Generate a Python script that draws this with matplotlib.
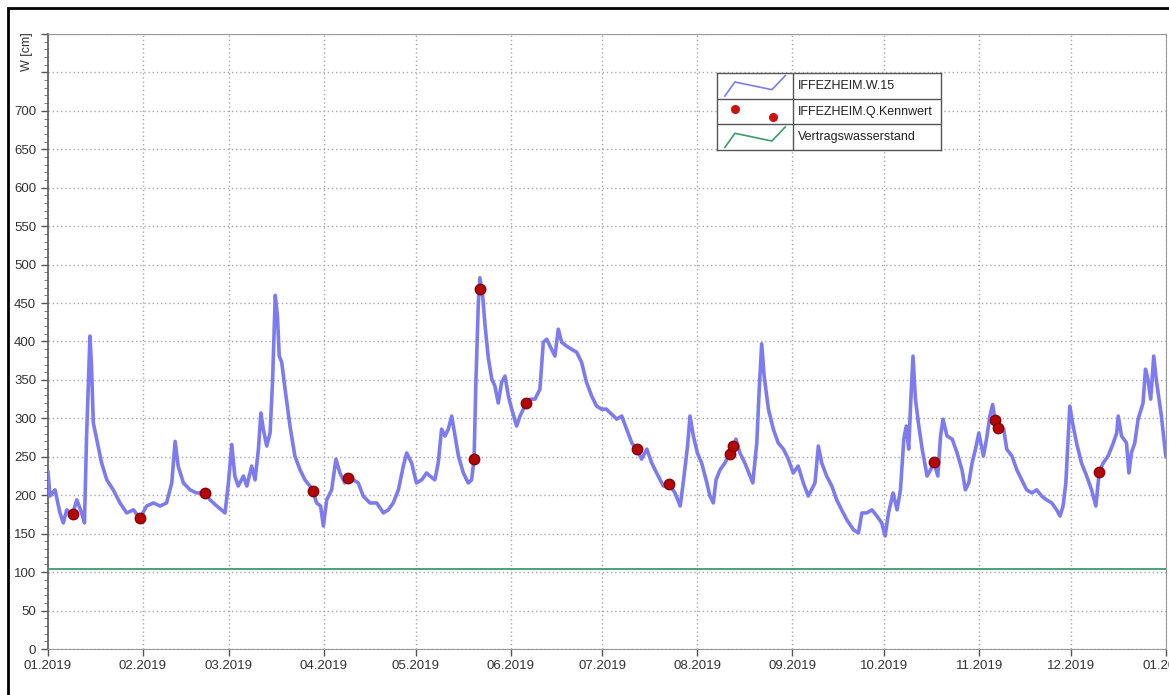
import numpy as np
import pandas as pd
import matplotlib
matplotlib.use("Agg")
import matplotlib.pyplot as plt
import matplotlib.dates as mdates
from matplotlib.ticker import MultipleLocator, FuncFormatter
from matplotlib.patches import Rectangle

plt.rcParams['font.family'] = ['Liberation Sans', 'DejaVu Sans']

start = pd.Timestamp('2019-01-01')

# IFFEZHEIM.W.15 - water level (day of year, cm)
w15_day = [0, 0.65, 2.3, 3.9, 5.0, 6.1, 8.0, 9.4, 11.0, 11.9, 12.6, 13.7, 14.2, 14.8, 15.9,
           17.5, 19.2, 21.3, 23.5, 25.7, 27.9, 30.0, 32.2, 34.4, 36.6, 38.7, 40.4, 41.5, 42.5,
           44.2, 46.4, 48.5, 51.3, 52.9, 55.1, 57.8, 58.9, 60.0,
           61.0, 62.1, 63.8, 64.9, 66.5, 67.6, 68.7, 69.5, 70.3, 71.4, 72.5, 73.3, 74.2, 74.9,
           75.5, 76.3, 77.4, 79.0, 80.6, 82.3, 83.9, 85.5, 86.4, 87.7, 89.0, 89.9, 91.0, 92.6,
           94.0, 95.3, 96.9, 98.0, 99.7, 101.3, 102.9, 105.1, 107.3, 109.5, 111.1, 112.7, 114.4,
           116.0, 117.1, 118.7, 120.3, 122.0, 123.6, 124.7,
           126.3, 127.4, 128.5, 129.6, 130.7, 131.8, 132.9, 134.0, 135.6, 137.2, 138.3, 139.1,
           139.7, 140.5, 141.0, 141.9, 142.7, 143.8, 144.9, 145.9, 147.0, 148.1, 149.2, 150.3,
           151.4, 153.0, 154.1, 156.1, 157.4, 159.0, 160.6, 161.7, 162.8, 164.4, 165.5, 166.6,
           167.7, 169.3, 170.9, 172.6, 174.2, 175.8, 177.5, 179.1, 180.7, 182.3,
           185.7, 187.3, 188.9, 190.6, 192.2, 193.8, 195.5, 197.1, 198.7, 200.9, 202.9, 204.7,
           206.4, 207.5, 208.8, 209.6, 210.7, 212.0, 213.4, 215.1, 216.1, 217.2, 218.1, 219.4,
           221.0, 222.5, 223.8, 224.6, 225.9, 227.5, 229.2, 230.1, 231.4, 232.2, 233.0, 233.8,
           235.2, 236.8, 238.4, 240.1, 241.7, 243.3, 244.9, 246.6, 248.2,
           250.4, 251.5, 252.6, 254.2, 255.9, 257.5, 259.1, 260.8, 263.0, 264.6, 265.7, 267.3,
           269.0, 270.6, 272.2, 273.3, 274.4, 275.9, 277.2, 278.3, 279.4, 280.2, 281.0, 281.7,
           282.4, 283.2, 284.3, 285.4, 287.0, 288.1, 289.2, 290.5, 291.4, 292.2, 293.5, 295.2,
           296.8, 298.4, 299.5, 300.6, 301.7, 302.8, 303.9,
           305.4, 306.4, 307.5, 308.4, 309.2, 310.3, 312.0, 313.0, 314.7, 316.3, 317.9, 319.5,
           321.2, 322.8, 324.4, 326.0, 327.7, 329.3, 330.4, 331.4, 332.3, 333.1, 333.6, 334.5,
           335.8, 337.4, 339.1, 340.7, 342.1, 343.2, 344.5, 346.1, 347.8, 348.9, 349.4, 350.5,
           352.1, 352.9, 353.7, 354.8, 355.9, 357.5, 358.3, 359.1, 360.0, 361.0, 361.8, 363.5,
           364.8, 365.0]
w15_cm = [230, 199, 207, 177, 164, 181, 175, 194, 177, 164, 277, 407, 368, 294, 273,
          242, 220, 207, 190, 177, 181, 170, 186, 190, 186, 190, 216, 270, 238,
          216, 207, 203, 203, 194, 186, 177, 216, 266,
          225, 212, 225, 212, 238, 220, 260, 307, 286, 264, 281, 347, 460, 433,
          381, 373, 338, 290, 251, 233, 220, 212, 206, 190, 186, 160, 194, 207,
          247, 229, 216, 225, 220, 216, 199, 190, 190, 177, 181, 190, 207,
          238, 255, 242, 216, 220, 229, 225,
          220, 242, 286, 277, 286, 303, 277, 251, 229, 216, 220, 247,
          347, 451, 483, 460, 420, 377, 351, 342, 320, 347, 355, 329,
          312, 290, 303, 320, 325, 325, 338, 399, 403, 390, 381, 416,
          399, 394, 390, 386, 373, 347, 329, 316, 312, 312,
          299, 303, 286, 268, 260, 247, 260, 242, 229, 212, 214, 203,
          186, 220, 264, 303, 277, 255, 242, 216, 199, 190, 220, 233,
          242, 254, 264, 273, 255, 242, 225, 216, 268, 338, 397, 355,
          312, 286, 268, 260, 247, 229, 238, 216, 199,
          216, 264, 242, 225, 212, 194, 181, 168, 155, 151, 177, 177,
          181, 173, 164, 147, 177, 203, 181, 207, 273, 290, 260, 325,
          381, 325, 290, 260, 225, 233, 243, 225, 277, 299, 277, 273,
          255, 233, 207, 216, 242, 260, 281,
          251, 273, 303, 318, 298, 287, 286, 260, 251, 233, 220, 207,
          203, 207, 199, 194, 190, 181, 173, 186, 216, 277, 316, 294,
          268, 242, 225, 207, 186, 230, 242, 251, 268, 281, 303, 277,
          268, 229, 255, 268, 299, 320, 364, 351, 325, 381, 351, 303,
          255, 250]

# IFFEZHEIM.Q.Kennwert - single points
kw_day = [8.0, 30.0, 51.3, 86.4, 98.0, 139.1, 141.1, 156.1, 192.2, 202.9, 222.5, 223.6,
          289.2, 309.2, 310.3, 343.2]
kw_cm = [175, 170, 203, 206, 223, 247, 468, 320, 260, 214, 254, 264, 243, 298, 287, 230]

# Vertragswasserstand
vw_day = [0, 365]
vw_cm = [104, 104]

w15_t = start + pd.to_timedelta(w15_day, unit='D')
kw_t = start + pd.to_timedelta(kw_day, unit='D')
vw_t = start + pd.to_timedelta(vw_day, unit='D')

fig = plt.figure(figsize=(11.69, 6.95), dpi=100)
ax = fig.add_axes([48 / 1169, 1 - 649 / 695, 1118 / 1169, 615 / 695])

ax.plot(vw_t, vw_cm, color='#3f9a6c', lw=1.3, zorder=3)
ax.plot(w15_t, w15_cm, color='#7c7cf0', lw=2.6, zorder=4)
ax.plot(kw_t, kw_cm, 'o', color='#b40808', mec='#8a0000', ms=7.5, zorder=5)

ax.set_xlim(start, pd.Timestamp('2020-01-01'))
ax.set_ylim(0, 800)

ax.xaxis.set_major_locator(mdates.MonthLocator())
ax.xaxis.set_major_formatter(mdates.DateFormatter('%m.%Y'))
ax.yaxis.set_major_locator(MultipleLocator(50))
ax.yaxis.set_minor_locator(MultipleLocator(10))
ax.yaxis.set_major_formatter(FuncFormatter(lambda v, p: '' if v > 700 else '%d' % v))

ax.grid(True, which='major', color='#a8a8a8', linestyle=(0, (1, 2)), linewidth=1.0)
ax.tick_params(axis='both', which='major', labelsize=9.5, colors='#555555', labelcolor='#333333',
               length=5, width=1)
ax.tick_params(axis='y', which='minor', length=3, color='#666666')
ax.tick_params(axis='x', pad=3)

for side in ['top', 'right', 'bottom']:
    ax.spines[side].set_color('#9a9a9a')
ax.spines['left'].set_color('#666666')
ax.spines['left'].set_linewidth(1.3)

fig.text(27 / 1169, 1 - 52 / 695, 'W [cm]', rotation=90, ha='center', va='center',
         fontsize=9, color='#333333')

# table-style legend box
lax = fig.add_axes([717 / 1169, 1 - 150 / 695, 224 / 1169, 77 / 695], zorder=6)
lax.set_xlim(0, 1)
lax.set_ylim(0, 3)
lax.set_xticks([])
lax.set_yticks([])
for s in lax.spines.values():
    s.set_color('#555555')
    s.set_linewidth(1)
lax.axhline(1, color='#555555', lw=1)
lax.axhline(2, color='#555555', lw=1)
lax.axvline(0.34, color='#555555', lw=1)
zx = np.array([0.035, 0.08, 0.245, 0.305])
lax.plot(zx, 2 + np.array([0.1, 0.65, 0.35, 0.9]), color='#7c7cf0', lw=1.2)
lax.plot([0.08, 0.25], [1.6, 1.3], 'o', color='#d01010', ms=5.5)
lax.plot(zx, np.array([0.1, 0.65, 0.35, 0.9]), color='#3f9a6c', lw=1.2)
labels = ['IFFEZHEIM.W.15', 'IFFEZHEIM.Q.Kennwert', 'Vertragswasserstand']
for i, lab in enumerate(labels):
    lax.text(0.36, 2.5 - i, lab, va='center', ha='left', fontsize=9, color='#222222')

# outer frame of the original screenshot
fig.patches.append(Rectangle((8 / 1169, -0.1), 1.2, 1 - 8 / 695 + 0.1, transform=fig.transFigure,
                             fill=False, edgecolor='black', lw=2))

fig.savefig('out.png', dpi=100)
